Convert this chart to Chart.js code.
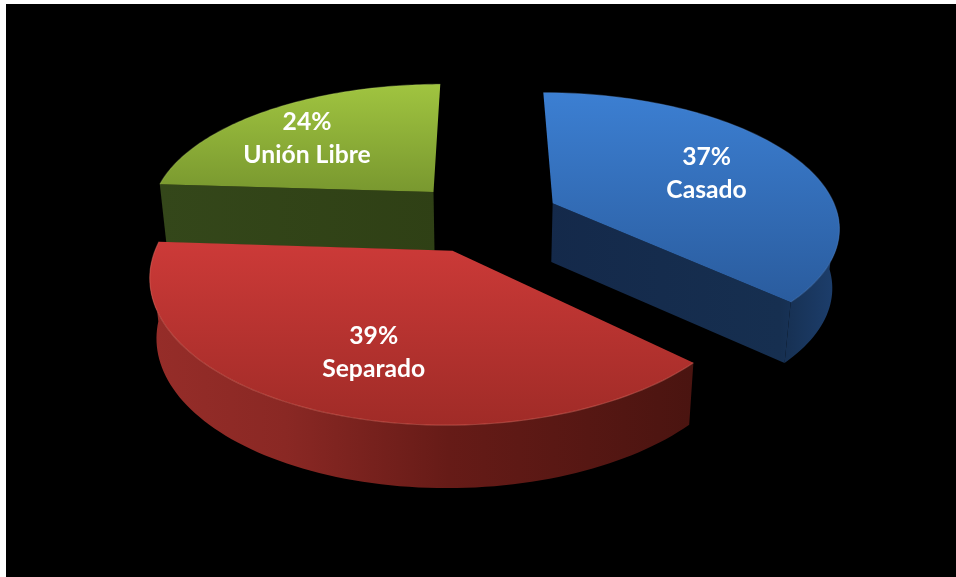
<!DOCTYPE html>
<html>
<head>
<meta charset="utf-8">
<style>
html,body{margin:0;padding:0;background:#fff;overflow:hidden}
#wrap{position:absolute;left:6px;top:4px;width:950px;height:573px;background:#000}
canvas{display:block;filter:blur(0.6px)}
</style>
<script src="https://cdn.jsdelivr.net/npm/chart.js@4"></script>
</head>
<body>
<div id="wrap"><canvas id="c" width="950" height="573"></canvas></div>
<script>
const categories = ['Casado', 'Separado', 'Unión Libre'];
const values = [37, 39, 24];
const paintOrder = [2, 0, 1];
const labelRadius = [0.627, 0.665, 0.684];
const labelTurn = [0.009, -0.061, -0.07];
const topColors = [['#3c7fd2', '#2a5c9e'], ['#cc3a38', '#a02b27'], ['#a0c440', '#79982f']];
const sideColors = [
  [[0, '#14294a'], [0.8, '#162f50'], [1, '#1d3f6e']],
  [[0, '#962d29'], [0.25, '#8a2824'], [0.55, '#661b17'], [1, '#4a1410']],
  [[0, '#34471a'], [1, '#2f4015']]
];
const rimColors = ['rgba(90,140,210,0.35)', 'rgba(225,110,100,0.45)', 'rgba(190,220,110,0.3)'];

// Perspective view of the pie plane (plane radius = 1)
const view = {cx: 478, cy: 213, ax: 286, ay: 133, qx: 0.16, qy: 0.165, depth: 59, explode: 0.266, shrink: 0.98};

function project(px, py, h) {
  let x = view.ax * px / (1 - view.qx * py);
  const y = view.ay * py / (1 - view.qy * py);
  if (h) x *= view.shrink;
  return {x: view.cx + x, y: view.cy + y + (h ? view.depth / (1 - 0.05 * py) : 0)};
}

function planePoint(arc, angle, rho) {
  const mid = (arc.startAngle + arc.endAngle) / 2;
  return {
    px: Math.cos(mid) * view.explode + Math.cos(angle) * rho,
    py: Math.sin(mid) * view.explode + Math.sin(angle) * rho
  };
}

function rimPoints(arc, h, frontOnly) {
  const pts = [];
  const steps = 90;
  for (let i = 0; i <= steps; i++) {
    const a = arc.startAngle + (arc.endAngle - arc.startAngle) * i / steps;
    if (frontOnly && Math.sin(a) < 0.05) continue;
    const p = planePoint(arc, a, 1);
    pts.push(project(p.px, p.py, h));
  }
  return pts;
}

function tracePoly(ctx, pts) {
  ctx.beginPath();
  pts.forEach((p, i) => i ? ctx.lineTo(p.x, p.y) : ctx.moveTo(p.x, p.y));
  ctx.closePath();
}

class Pie3D extends Chart.PieController {
  static id = 'pie3d';
  static defaults = {};
  static overrides = Chart.PieController.overrides;
  draw() {
    const ctx = this.chart.ctx;
    const arcs = this._cachedMeta.data;
    paintOrder.forEach(i => this.paintSlice(ctx, arcs[i], i));
  }
  paintSlice(ctx, arc, i) {
    const c = planePoint(arc, 0, 0);
    const apexTop = project(c.px, c.py, 0);
    const apexBot = project(c.px, c.py, 1);
    const top = rimPoints(arc, 0);
    const bot = rimPoints(arc, 1);
    const all = top.concat(bot, [apexTop, apexBot]);
    const xs = all.map(p => p.x);
    const minX = Math.min(...xs), maxX = Math.max(...xs);

    const side = ctx.createLinearGradient(minX, 0, maxX, 0);
    sideColors[i].forEach(s => side.addColorStop(s[0], s[1]));
    ctx.fillStyle = side;
    // only the walls that face the viewer
    if (-Math.cos(arc.startAngle) > 0.02) {
      tracePoly(ctx, [apexTop, top[0], bot[0], apexBot]); ctx.fill();
    }
    if (Math.cos(arc.endAngle) > 0.02) {
      tracePoly(ctx, [apexTop, top[top.length - 1], bot[bot.length - 1], apexBot]); ctx.fill();
    }
    const frontTop = rimPoints(arc, 0, true);
    const frontBot = rimPoints(arc, 1, true);
    if (frontTop.length) {
      tracePoly(ctx, frontTop.concat(frontBot.slice().reverse())); ctx.fill();
    }

    const ys = top.concat([apexTop]).map(p => p.y);
    const face = ctx.createLinearGradient(0, Math.min(...ys), 0, Math.max(...ys));
    face.addColorStop(0, topColors[i][0]);
    face.addColorStop(1, topColors[i][1]);
    ctx.fillStyle = face;
    tracePoly(ctx, [apexTop].concat(top)); ctx.fill();

    ctx.strokeStyle = rimColors[i];
    ctx.lineWidth = 1.2;
    ctx.beginPath();
    top.forEach((p, k) => k ? ctx.lineTo(p.x, p.y) : ctx.moveTo(p.x, p.y));
    ctx.stroke();
  }
}
Chart.register(Pie3D);

const sliceLabels = {
  id: 'sliceLabels',
  afterDatasetsDraw(chart) {
    const ctx = chart.ctx;
    const arcs = chart.getDatasetMeta(0).data;
    const total = values.reduce((a, b) => a + b, 0);
    ctx.save();
    ctx.fillStyle = '#fff';
    ctx.font = 'bold 24.7px Lato, "Open Sans", sans-serif';
    ctx.textAlign = 'center';
    ctx.textBaseline = 'middle';
    arcs.forEach((arc, i) => {
      const mid = (arc.startAngle + arc.endAngle) / 2 + labelTurn[i];
      const p = planePoint(arc, mid, labelRadius[i]);
      const s = project(p.px, p.py, 0);
      ctx.fillText(Math.round(values[i] / total * 100) + '%', s.x, s.y - 16);
      ctx.fillText(categories[i], s.x, s.y + 17);
    });
    ctx.restore();
  }
};

new Chart(document.getElementById('c'), {
  type: 'pie3d',
  data: {
    labels: categories,
    datasets: [{data: values, backgroundColor: topColors.map(c => c[0]), borderWidth: 0}]
  },
  options: {
    responsive: false,
    animation: false,
    events: [],
    plugins: {legend: {display: false}, tooltip: {enabled: false}}
  },
  plugins: [sliceLabels]
});
</script>
</body>
</html>
